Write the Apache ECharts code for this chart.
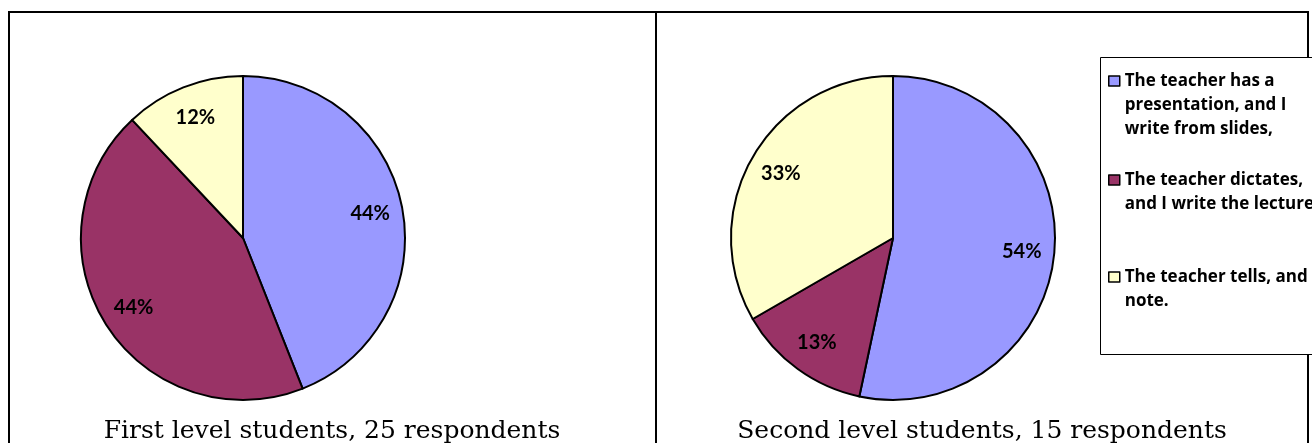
<!DOCTYPE html>
<html>
<head>
<meta charset="utf-8">
<title>Note taking in lectures</title>
<script src="https://cdn.jsdelivr.net/npm/echarts@6/dist/echarts.min.js"></script>
<style>
	html, body { margin: 0; padding: 0; background: #fff; }
	#chart { width: 1312px; height: 443px; }
</style>
</head>
<body>
<div id="chart"></div>
<script>
// answers, same order in both pies
const categories = [
	'The teacher has a presentation, and I write from slides,',
	'The teacher dictates, and I write the lecture',
	'The teacher tells, and I take note.'
];
// how the legend breaks them
const legendText = [
	'The teacher has a\npresentation, and I\nwrite from slides,',
	'The teacher dictates,\nand I write the lecture',
	'The teacher tells, and I take\nnote.'
];
const colors = ['#9999FF', '#993366', '#FFFFCC'];

// respondents per answer
const firstLevel = [11, 11, 3];
const secondLevel = [8, 2, 5];
// percentages printed on the slices
const firstLabels = ['44%', '44%', '12%'];
const secondLabels = ['54%', '13%', '33%'];

const titles = ['First level students, 25 respondents', 'Second level students, 15 respondents'];

const R = 162;
const LINE = 24;
// y of each legend marker (excel puts them at the first line of text)
const markerY = [81, 180, 277];

function pies(values, labels, cx) {
	// the filled pie
	const pie = {
		type: 'pie',
		center: [cx, 238],
		radius: R,
		startAngle: 90,
		clockwise: true,
		animation: false,
		emphasis: { disabled: true },
		itemStyle: { borderColor: '#000', borderWidth: 2 },
		label: { show: false },
		labelLine: { show: false },
		data: values.map((v, i) => ({ name: categories[i], value: v }))
	};
	// empty ring only used to put the labels further out, like excel does
	const ring = {
		type: 'pie',
		center: [cx, 238],
		radius: [91, R],
		startAngle: 90,
		clockwise: true,
		silent: true,
		animation: false,
		itemStyle: { color: 'rgba(0,0,0,0)', borderWidth: 0 },
		label: {
			show: true,
			position: 'inside',
			fontFamily: 'Lato',
			fontWeight: 'bold',
			fontSize: 20,
			color: '#000'
		},
		labelLine: { show: false },
		data: values.map((v, i) => ({ name: categories[i], value: v, label: { formatter: labels[i] } }))
	};
	return [pie, ring];
}

// one legend per answer so the marker can sit on the first line.
// legend text is always centred on the marker, so pad with empty lines on top
function legends() {
	return categories.map((c, i) => {
		const n = legendText[i].split('\n').length;
		return {
			orient: 'vertical',
			left: 1108,
			top: markerY[i] - (2 * n - 1) * LINE / 2,
			z: 10,
			padding: 0,
			icon: 'rect',
			itemWidth: 11,
			itemHeight: 10,
			selectedMode: false,
			itemStyle: { borderColor: '#000', borderWidth: 1.5 },
			textStyle: {
				fontFamily: 'Open Sans',
				fontWeight: 'bold',
				fontSize: 17,
				color: '#000',
				lineHeight: LINE
			},
			data: [c],
			formatter: () => '\n'.repeat(n - 1) + legendText[i]
		};
	});
}

const chart = echarts.init(document.getElementById('chart'));
const option = {
	backgroundColor: '#fff',
	color: colors,
	animation: false,
	title: titles.map((t, i) => ({
		text: t,
		left: [332, 982][i],
		top: 419,
		textAlign: 'center',
		padding: 0,
		textStyle: { fontFamily: 'DejaVu Serif', fontWeight: 'normal', fontSize: 25, color: '#000' }
	})),
	legend: legends(),
	graphic: [
		{ type: 'rect', z: 0, shape: { x: 9, y: 12, width: 647, height: 480 }, style: { fill: 'none', stroke: '#000', lineWidth: 2 } },
		{ type: 'rect', z: 0, shape: { x: 656, y: 12, width: 652, height: 480 }, style: { fill: 'none', stroke: '#000', lineWidth: 2 } },
		// legend frame
		{ type: 'rect', z: 1, shape: { x: 1100.5, y: 57.5, width: 300, height: 297 }, style: { fill: '#fff', stroke: '#000', lineWidth: 1 } }
	],
	series: [
		...pies(firstLevel, firstLabels, 243),
		...pies(secondLevel, secondLabels, 893)
	]
};
chart.setOption(option);
</script>
</body>
</html>
